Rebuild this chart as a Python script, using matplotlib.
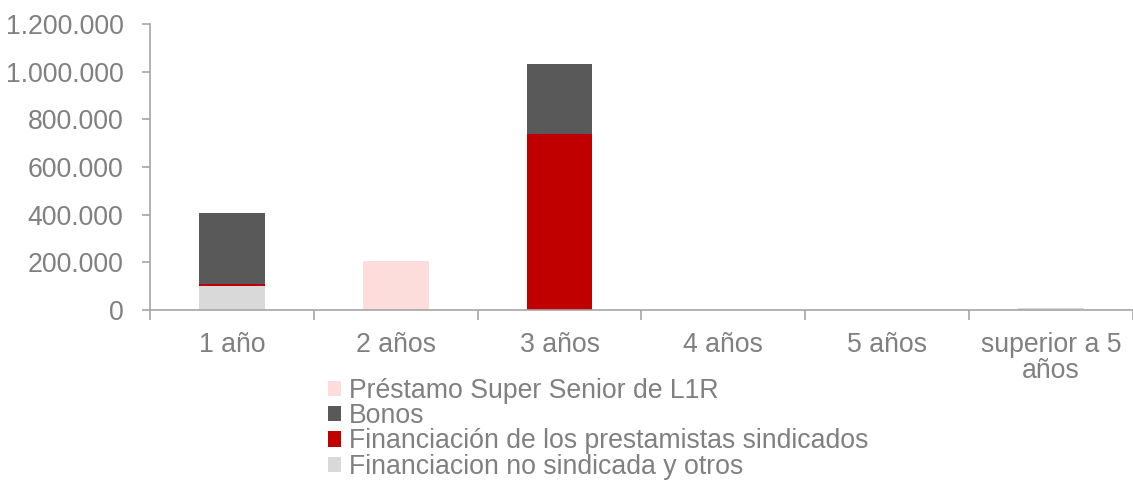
import numpy as np
import matplotlib.pyplot as plt
from matplotlib.ticker import FuncFormatter

plt.rcParams['font.family'] = ['Liberation Sans', 'DejaVu Sans']

# Datos
categorias = ['1 año', '2 años', '3 años', '4 años', '5 años', 'superior a 5\naños']
no_sindicada = [100000, 2000, 0, 0, 0, 8000]
sindicados = [8000, 0, 738000, 0, 0, 0]
bonos = [297000, 0, 293000, 0, 0, 0]
super_senior = [0, 205000, 0, 0, 0, 0]

series = [
    ('Financiacion no sindicada y otros', no_sindicada, '#d9d9d9'),
    ('Financiación de los prestamistas sindicados', sindicados, '#c00000'),
    ('Bonos', bonos, '#595959'),
    ('Préstamo Super Senior de L1R', super_senior, '#fcdddb'),
]

gris_texto = '#808080'
gris_eje = '#a6a6a6'
fs = 19.2

fig = plt.figure(figsize=(11.33, 4.82), dpi=100)
ax = fig.add_axes([150 / 1133, 1 - 310 / 482, (1133 - 150) / 1133, (310 - 24) / 482])

x = np.arange(len(categorias))
base = np.zeros(len(categorias))
barras = {}
for nombre, vals, color in series:
    vals = np.array(vals, dtype=float)
    barras[nombre] = ax.bar(x, vals, 0.4, bottom=base, color=color, linewidth=0, label=nombre)
    base += vals

ax.set_ylim(0, 1200000)
ax.set_xlim(-0.5, 5.5 - 7 / 165)
ax.set_yticks(np.arange(0, 1200001, 200000))
ax.yaxis.set_major_formatter(FuncFormatter(lambda v, p: f'{int(v):,}'.replace(',', '.')))

# ticks del eje x en los limites de categorias
ax.set_xticks(np.arange(-0.5, 6, 1), minor=False)
ax.set_xticklabels([])
ax.set_xticks(x, minor=True)
ax.set_xticklabels(categorias, minor=True, linespacing=1.0)
ax.tick_params(axis='x', which='minor', length=0, pad=16, labelsize=fs, labelcolor=gris_texto)
ax.tick_params(axis='x', which='major', length=7, color=gris_eje, width=1.2)
ax.tick_params(axis='y', length=6, color=gris_eje, width=1.2, labelsize=fs, labelcolor=gris_texto, pad=13)

for s in ['top', 'right']:
    ax.spines[s].set_visible(False)
for s in ['left', 'bottom']:
    ax.spines[s].set_color(gris_eje)
    ax.spines[s].set_linewidth(1.2)

orden = ['Préstamo Super Senior de L1R', 'Bonos', 'Financiación de los prestamistas sindicados',
         'Financiacion no sindicada y otros']
leg = fig.legend([barras[n] for n in orden], orden, loc='upper left',
                 bbox_to_anchor=(328 / 1133, 1 - 378 / 482), frameon=False, fontsize=fs,
                 handlelength=0.5, handleheight=0.5, handletextpad=0.3, labelspacing=-0.03,
                 borderaxespad=0, borderpad=0)
for t in leg.get_texts():
    t.set_color(gris_texto)

fig.savefig('out.png', dpi=100)
